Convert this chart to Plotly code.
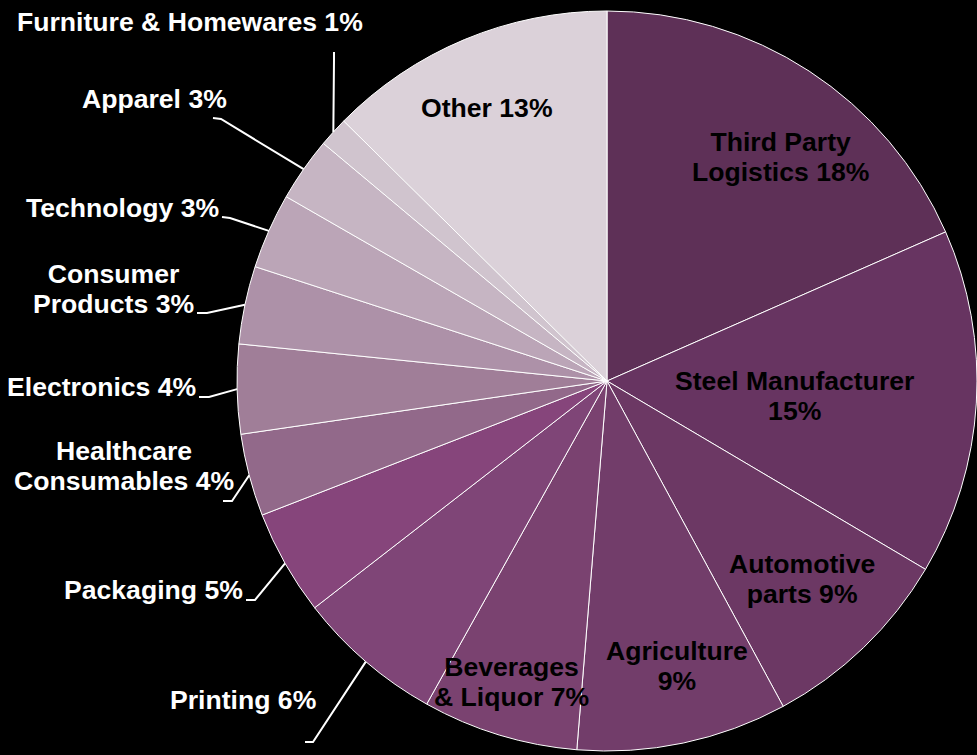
import math
import plotly.graph_objects as go

# Figure size in pixels
W, H = 977, 755

# ---- data -------------------------------------------------------------
categories = [
    "Third Party Logistics", "Steel Manufacturer", "Automotive parts",
    "Agriculture", "Beverages & Liquor", "Printing", "Packaging",
    "Healthcare Consumables", "Electronics", "Consumer Products",
    "Technology", "Apparel", "Furniture & Homewares", "Other",
]
shares = [18.4, 15.1, 8.6, 9.2, 6.8, 6.4, 4.6, 3.6, 3.9, 3.4, 3.3, 2.8, 1.3, 12.6]

# how each category name is broken over lines in its label
label_lines = {
    "Third Party Logistics": ["Third Party", "Logistics"],
    "Steel Manufacturer": ["Steel Manufacturer", ""],
    "Automotive parts": ["Automotive", "parts"],
    "Agriculture": ["Agriculture", ""],
    "Beverages & Liquor": ["Beverages", "& Liquor"],
    "Healthcare Consumables": ["Healthcare", "Consumables"],
    "Consumer Products": ["Consumer", "Products"],
}

# ---- styling ------------------------------------------------------------
slice_colors = [
    "#5E3057", "#673461", "#6C3864", "#723D6A", "#7A4270", "#7F4577",
    "#86457B", "#92698A", "#A07E98", "#AD91A8", "#BBA5B7", "#C6B5C3",
    "#D0C4CE", "#DBD1D9",
]

# pie geometry (pixels)
CX, CY, R = 607.0, 381.0, 370.0

# label placement: text-block centre (px); for outside labels also the
# start of the leader line and its elbow (px)
label_layout = {
    "Third Party Logistics": dict(pos=(780, 157), inside=True),
    "Steel Manufacturer": dict(pos=(794, 396), inside=True),
    "Automotive parts": dict(pos=(802, 579), inside=True),
    "Agriculture": dict(pos=(677, 666), inside=True),
    "Beverages & Liquor": dict(pos=(511, 682), inside=True),
    "Other": dict(pos=(487, 108), inside=True),
    "Printing": dict(pos=(243, 700), inside=False, start=(305, 742), elbow=(313, 742)),
    "Packaging": dict(pos=(153, 590), inside=False, start=(246, 600), elbow=(255, 600)),
    "Healthcare Consumables": dict(pos=(124, 466), inside=False, start=(223, 501), elbow=(232, 501)),
    "Electronics": dict(pos=(101, 387), inside=False, start=(199, 397), elbow=(209, 397)),
    "Consumer Products": dict(pos=(113, 289), inside=False, start=(197, 313), elbow=(207, 313)),
    "Technology": dict(pos=(122, 208), inside=False, start=(222, 217), elbow=(230, 218)),
    "Apparel": dict(pos=(154, 99), inside=False, start=(213, 118), elbow=(221, 119)),
    "Furniture & Homewares": dict(pos=(190, 22), inside=False, start=(334, 52), elbow=(334, 60)),
}

FONT_FAMILY = "Arial, 'Liberation Sans', sans-serif"
GLYPH_PX = 26.6    # glyph size of label text
LINE_BASE = 23     # base size that sets the spacing between label lines


def px_to_paper(x, y):
    return x / W, 1 - y / H


total = sum(shares)
fig = go.Figure()

fig.add_trace(go.Pie(
    labels=categories,
    values=shares,
    sort=False,
    direction="clockwise",
    rotation=0,
    textinfo="none",
    hoverinfo="label+percent",
    marker=dict(colors=slice_colors, line=dict(color="#FFFFFF", width=1)),
    domain=dict(
        x=[(CX - R) / W, min(1.0, (CX + R) / W)],
        y=[1 - (CY + R) / H, 1 - (CY - R) / H],
    ),
    showlegend=False,
))

annotations = []
shapes = []
cum = 0.0
for name, val in zip(categories, shares):
    frac = val / total
    mid = cum + frac / 2
    cum += frac
    pct = f"{frac * 100:.0f}%"

    lines = label_lines.get(name, [name, ""])
    if lines[1]:
        rows = [lines[0], f"{lines[1]} {pct}"]
    elif name in label_lines:
        rows = [lines[0], pct]
    else:
        rows = [f"{lines[0]} {pct}"]
    text = "<br>".join(
        f'<span style="font-size:{GLYPH_PX}px">{row}</span>' for row in rows
    )

    spec = label_layout[name]
    ax, ay = px_to_paper(*spec["pos"])
    annotations.append(dict(
        x=ax, y=ay, xref="paper", yref="paper",
        xanchor="center", yanchor="middle", align="center",
        text=text, showarrow=False,
        font=dict(family=FONT_FAMILY, size=LINE_BASE, weight="bold",
                  color="#000000" if spec["inside"] else "#FFFFFF"),
    ))

    if not spec["inside"]:
        theta = 2 * math.pi * mid
        rim = (CX + R * math.sin(theta), CY - R * math.cos(theta))
        pts = [px_to_paper(*spec["start"]), px_to_paper(*spec["elbow"]),
               px_to_paper(*rim)]
        path = "M {:.5f},{:.5f} L {:.5f},{:.5f} L {:.5f},{:.5f}".format(
            *pts[0], *pts[1], *pts[2])
        shapes.append(dict(type="path", xref="paper", yref="paper", path=path,
                           line=dict(color="#FFFFFF", width=2)))

fig.update_layout(
    width=W, height=H,
    margin=dict(l=0, r=0, t=0, b=0),
    paper_bgcolor="#000000",
    plot_bgcolor="#000000",
    annotations=annotations,
    shapes=shapes,
)

fig.write_html("out.html")
